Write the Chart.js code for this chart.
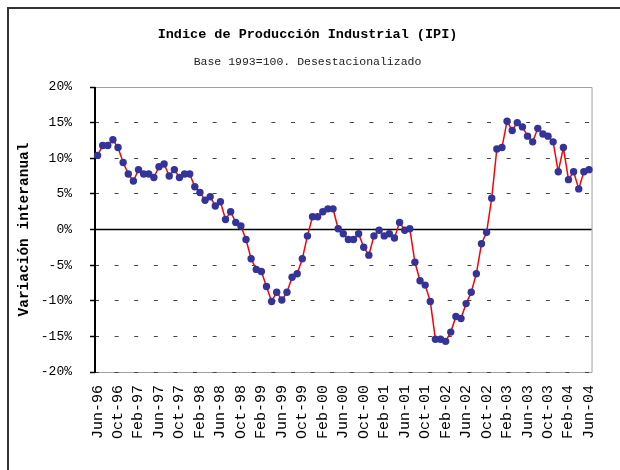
<!DOCTYPE html>
<html lang="es">
<head>
    <meta charset="UTF-8">
    <title>Indice de Producción Industrial (IPI)</title>
    <script src="https://cdn.jsdelivr.net/npm/chart.js"></script>
    <style>
        body {
            margin: 0;
            background-color: #ffffff;
        }
        #ipiChart {
            display: block;
        }
    </style>
</head>
<body>
    <canvas id="ipiChart" width="620" height="470"></canvas>

    <script>
        // Variación interanual del IPI (%), mensual desde Jun-96 hasta Jun-04
        const monthNames = ["Jan", "Feb", "Mar", "Apr", "May", "Jun", "Jul", "Aug", "Sep", "Oct", "Nov", "Dec"];
        const ipiValues = [
            10.4, 11.8, 11.8, 12.6, 11.5, 9.4, 7.8,
            6.8, 8.4, 7.8, 7.8, 7.3, 8.8, 9.2, 7.5, 8.4, 7.3, 7.8, 7.8,
            6.0, 5.2, 4.1, 4.6, 3.3, 3.9, 1.4, 2.5, 1.0, 0.5, -1.4, -4.1,
            -5.6, -5.9, -8.0, -10.1, -8.8, -9.9, -8.8, -6.7, -6.2, -4.1, -0.9, 1.8,
            1.8, 2.5, 2.9, 2.9, 0.1, -0.6, -1.4, -1.4, -0.6, -2.5, -3.6, -0.9,
            -0.1, -0.9, -0.6, -1.2, 1.0, -0.1, 0.1, -4.6, -7.2, -7.8, -10.1, -15.4,
            -15.4, -15.7, -14.4, -12.2, -12.5, -10.4, -8.8, -6.2, -2.0, -0.4, 4.4, 11.3,
            11.5, 15.2, 13.9, 15.0, 14.4, 13.1, 12.3, 14.2, 13.4, 13.1, 12.3, 8.1,
            11.5, 7.0, 8.1, 5.7, 8.1, 8.4
        ];
        const yTicks = [-20, -15, -10, -5, 0, 5, 10, 15, 20];

        // etiquetas mensuales Jun-96 ... Jun-04
        const months = ipiValues.map((_, i) => {
            const m = (5 + i) % 12;
            const y = 96 + Math.floor((5 + i) / 12);
            return monthNames[m] + '-' + String(y % 100).padStart(2, '0');
        });

        const mono = "'Liberation Mono', 'DejaVu Sans Mono', monospace";

        // marco, eje y linea del cero
        const framePlugin = {
            id: 'frame',
            beforeDraw(chart) {
                const {ctx, chartArea: a} = chart;
                ctx.save();
                ctx.fillStyle = '#ffffff';
                ctx.fillRect(0, 0, chart.width, chart.height);
                ctx.strokeStyle = '#333333';
                ctx.lineWidth = 2;
                ctx.beginPath();
                ctx.moveTo(8, chart.height);
                ctx.lineTo(8, 8);
                ctx.lineTo(chart.width, 8);
                ctx.stroke();
                ctx.strokeStyle = '#a0a0a0';
                ctx.lineWidth = 1;
                ctx.beginPath();
                ctx.moveTo(a.left, a.top + 0.5);
                ctx.lineTo(a.right + 0.5, a.top + 0.5);
                ctx.lineTo(a.right + 0.5, a.bottom + 0.5);
                ctx.lineTo(a.left, a.bottom + 0.5);
                ctx.stroke();
                ctx.restore();
            },
            beforeDatasetsDraw(chart) {
                const {ctx, chartArea: a, scales} = chart;
                const y0 = scales.y.getPixelForValue(0);
                ctx.save();
                ctx.strokeStyle = '#000000';
                ctx.lineWidth = 1.5;
                ctx.beginPath();
                ctx.moveTo(a.left, y0);
                ctx.lineTo(a.right, y0);
                ctx.stroke();
                ctx.lineWidth = 2;
                ctx.beginPath();
                ctx.moveTo(a.left, a.top);
                ctx.lineTo(a.left, a.bottom + 1);
                ctx.stroke();
                ctx.restore();
            }
        };

        const chart = new Chart(document.getElementById('ipiChart'), {
            type: 'line',
            data: {
                labels: months,
                datasets: [{
                    label: 'IPI',
                    data: ipiValues,
                    borderColor: '#ff0000',
                    borderWidth: 1.5,
                    tension: 0,
                    pointRadius: 3.7,
                    pointBackgroundColor: '#333399',
                    pointBorderColor: '#333399',
                    pointBorderWidth: 0
                }]
            },
            options: {
                responsive: false,
                animation: false,
                devicePixelRatio: 1,
                layout: {
                    padding: {left: 0, right: 5, top: 0, bottom: 0}
                },
                plugins: {
                    legend: {display: false},
                    tooltip: {enabled: false},
                    title: {
                        display: true,
                        text: 'Indice de Producción Industrial (IPI)',
                        color: '#000000',
                        font: {family: mono, size: 13.5, weight: 'bold'},
                        padding: {top: 26.5, bottom: 12}
                    },
                    subtitle: {
                        display: true,
                        text: 'Base 1993=100. Desestacionalizado',
                        color: '#222222',
                        font: {family: mono, size: 11.5, weight: 'normal'},
                        padding: {top: 0.5, bottom: 18}
                    }
                },
                scales: {
                    x: {
                        offset: true,
                        grid: {display: false, drawTicks: false},
                        border: {display: false},
                        ticks: {
                            autoSkip: false,
                            maxRotation: 90,
                            minRotation: 90,
                            padding: 13,
                            color: '#000000',
                            font: {family: mono, size: 15},
                            callback: function(value, index) {
                                return index % 4 === 0 ? months[index] : '';
                            }
                        },
                        afterFit(scale) {
                            scale.height = 98;
                        }
                    },
                    y: {
                        min: yTicks[0],
                        max: yTicks[yTicks.length - 1],
                        afterBuildTicks(scale) {
                            scale.ticks = yTicks.map(v => ({value: v}));
                        },
                        grid: {
                            color: function(ctx) {
                                const v = ctx.tick ? ctx.tick.value : null;
                                return (v === 0 || v === 20) ? 'rgba(0,0,0,0)' : '#444444';
                            },
                            lineWidth: 1,
                            tickColor: '#000000',
                            tickLength: 5,
                            tickWidth: 1.5
                        },
                        border: {display: false, dash: [4, 15.6], dashOffset: 0},
                        ticks: {
                            padding: 18,
                            color: '#000000',
                            font: {family: mono, size: 13},
                            callback: function(value) {
                                return value + '%';
                            }
                        },
                        title: {
                            display: true,
                            text: 'Variación interanual',
                            color: '#000000',
                            font: {family: mono, size: 14.5, weight: 'bold'},
                            padding: {top: 16, bottom: 0}
                        },
                        afterFit(scale) {
                            scale.width = 95;
                        }
                    }
                }
            },
            plugins: [framePlugin]
        });
    </script>
</body>
</html>
